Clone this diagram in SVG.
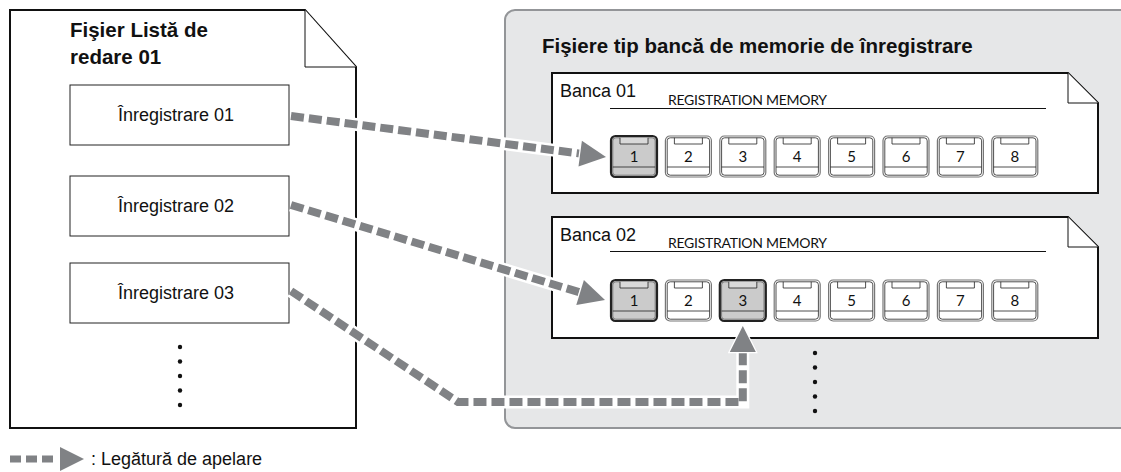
<svg xmlns="http://www.w3.org/2000/svg" width="1121" height="472" viewBox="0 0 1121 472">
<style>
.sans{font-family:"Liberation Sans",Arial,sans-serif;fill:#111}
.title{font-size:20.5px;font-weight:bold}
.rec{font-size:18px}
.bank{font-size:18px}
.reg{font-family:Lato,"Open Sans",sans-serif;font-size:14px;fill:#111}
.num{font-family:Lato,"Open Sans",sans-serif;font-size:15px;fill:#111;text-anchor:middle}
.doc{fill:#fff;stroke:#111;stroke-width:2;stroke-linejoin:miter}
.fold{fill:#fff;stroke:#111;stroke-width:1}
.box{fill:#fff;stroke:#222;stroke-width:1}
.halo{fill:none;stroke:#fff;stroke-width:13}
.dash{fill:none;stroke:#808285;stroke-width:8;stroke-dasharray:13 5}
.head{fill:#808285;stroke:#fff;stroke-width:2.5;paint-order:stroke}
.dot{fill:#111}
</style>
<defs>
<g id="btn">
<rect x="0" y="0" width="46" height="41" rx="4.5" fill="#fff" stroke="#777" stroke-width="1.2"/>
<rect x="1.8" y="1.8" width="42.4" height="37.4" rx="3" fill="none" stroke="#222" stroke-width="0.8"/>
<path d="M9 1.8 V8 H37 V1.8" fill="none" stroke="#222" stroke-width="0.8"/>
<line x1="1.8" y1="31" x2="44.2" y2="31" stroke="#222" stroke-width="0.8"/>
</g>
<g id="btnsel">
<rect x="0" y="0" width="46" height="41" rx="4.5" fill="#cbcbcb" stroke="#222" stroke-width="2.2"/>
<rect x="1.8" y="1.8" width="42.4" height="37.4" rx="3" fill="none" stroke="#444" stroke-width="0.6"/>
<path d="M9 1.8 V8 H37 V1.8" fill="#d9d9d9" stroke="#222" stroke-width="0.8"/>
<line x1="1.8" y1="31" x2="44.2" y2="31" stroke="#222" stroke-width="0.8"/>
</g>
</defs>

<g id="playlist-file">
<path class="doc" d="M10 10 H305 L356 67 V428 H10 Z"/>
<path class="fold" d="M305 10 V67 H356"/>
<text class="sans title" x="70" y="37">Fişier Listă de</text>
<text class="sans title" x="70" y="64">redare 01</text>
<g class="dot"><circle cx="180" cy="347" r="2.2"/><circle cx="180" cy="361.5" r="2.2"/><circle cx="180" cy="376" r="2.2"/><circle cx="180" cy="390.5" r="2.2"/><circle cx="180" cy="405" r="2.2"/></g>
</g>
<g id="rec01"><rect class="box" x="70" y="85" width="219" height="60"/><text class="sans rec" x="176" y="121" text-anchor="middle">Înregistrare 01</text></g>
<g id="rec02"><rect class="box" x="70" y="176" width="219" height="60"/><text class="sans rec" x="176" y="212" text-anchor="middle">Înregistrare 02</text></g>
<g id="rec03"><rect class="box" x="70" y="263" width="219" height="60"/><text class="sans rec" x="176" y="299" text-anchor="middle">Înregistrare 03</text></g>

<g id="bank-files">
<rect x="505" y="10" width="640" height="418" rx="10" fill="#e6e7e8" stroke="#939598" stroke-width="2"/>
<text class="sans title" x="542" y="53">Fişiere tip bancă de memorie de înregistrare</text>
<g class="dot"><circle cx="815" cy="353" r="2.2"/><circle cx="815" cy="367.5" r="2.2"/><circle cx="815" cy="382" r="2.2"/><circle cx="815" cy="396.5" r="2.2"/><circle cx="815" cy="411" r="2.2"/></g>
</g>

<g id="bank01">
<path class="doc" d="M552 73 H1068 L1098 103 V193 H552 Z"/>
<path class="fold" d="M1068 73 V103 H1098"/>
<text class="sans bank" x="560" y="97">Banca 01</text>
<text class="reg" x="668" y="105" textLength="159">REGISTRATION MEMORY</text>
<line x1="610" y1="108.5" x2="1046" y2="108.5" stroke="#111" stroke-width="1"/>
<use href="#btnsel" x="611" y="136"/>
<use href="#btn" x="665.4" y="136"/>
<use href="#btn" x="719.8" y="136"/>
<use href="#btn" x="774.2" y="136"/>
<use href="#btn" x="828.6" y="136"/>
<use href="#btn" x="883" y="136"/>
<use href="#btn" x="937.4" y="136"/>
<use href="#btn" x="991.8" y="136"/>
<text class="num" x="634" y="162">1</text><text class="num" x="688.4" y="162">2</text><text class="num" x="742.8" y="162">3</text><text class="num" x="797.2" y="162">4</text><text class="num" x="851.6" y="162">5</text><text class="num" x="906" y="162">6</text><text class="num" x="960.4" y="162">7</text><text class="num" x="1014.8" y="162">8</text>
</g>

<g id="bank02">
<path class="doc" d="M552 217 H1068 L1098 247 V338 H552 Z"/>
<path class="fold" d="M1068 217 V247 H1098"/>
<text class="sans bank" x="560" y="241">Banca 02</text>
<text class="reg" x="668" y="248" textLength="159">REGISTRATION MEMORY</text>
<line x1="610" y1="251.5" x2="1046" y2="251.5" stroke="#111" stroke-width="1"/>
<use href="#btnsel" x="611" y="280"/>
<use href="#btn" x="665.4" y="280"/>
<use href="#btnsel" x="719.8" y="280"/>
<use href="#btn" x="774.2" y="280"/>
<use href="#btn" x="828.6" y="280"/>
<use href="#btn" x="883" y="280"/>
<use href="#btn" x="937.4" y="280"/>
<use href="#btn" x="991.8" y="280"/>
<text class="num" x="634" y="306">1</text><text class="num" x="688.4" y="306">2</text><text class="num" x="742.8" y="306">3</text><text class="num" x="797.2" y="306">4</text><text class="num" x="851.6" y="306">5</text><text class="num" x="906" y="306">6</text><text class="num" x="960.4" y="306">7</text><text class="num" x="1014.8" y="306">8</text>
</g>

<g id="connectors">
<path class="halo" d="M291 116 L580.2 153.6"/>
<path class="dash" d="M291 116 L580.2 153.6"/>
<polygon class="head" points="606,157 578.5,166.5 581.9,140.7"/>
<path class="halo" d="M291 205 L580.1 292.5"/>
<path class="dash" d="M291 205 L580.1 292.5"/>
<polygon class="head" points="605,300 576.3,304.9 583.9,280.1"/>
<path class="halo" d="M291 291 L458 402 H742.8 V352" stroke-linejoin="miter"/>
<path class="dash" d="M291 291 L458 402 H742.8 V352"/>
<polygon class="head" points="742.8,326 755.8,352 729.8,352"/>
</g>

<g id="legend">
<path d="M10 459 H58" fill="none" stroke="#808285" stroke-width="7" stroke-dasharray="11 5"/>
<polygon points="60,447 84,459 60,471" fill="#808285"/>
<text class="sans rec" x="91" y="465">: Legătură de apelare</text>
</g>
</svg>
